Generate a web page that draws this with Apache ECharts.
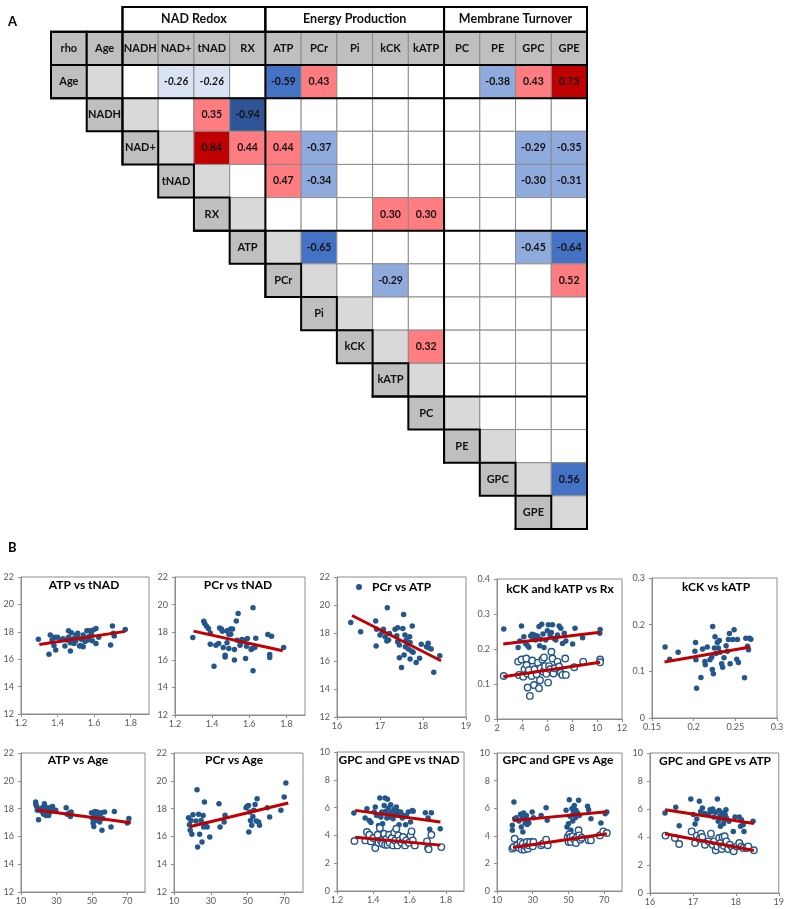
<!DOCTYPE html>
<html><head><meta charset="utf-8">
<script src="https://cdn.jsdelivr.net/npm/echarts@6/dist/echarts.min.js"></script>
<style>html,body{margin:0;padding:0;background:#fff}#c{width:787px;height:909px}</style>
</head><body><div id="c"></div>
<script>
// ---------- Panel A data ----------
const cornerLabel = 'rho';
const groupNames = ['NAD Redox', 'Energy Production', 'Membrane Turnover'];
const groupVars = [['NADH','NAD+','tNAD','RX'], ['ATP','PCr','Pi','kCK','kATP'], ['PC','PE','GPC','GPE']];
const rhoAge  = [['NAD+',-0.26],['tNAD',-0.26],['ATP',-0.59],['PCr',0.43],['PE',-0.38],['GPC',0.43],['GPE',0.73]];
const rhoNADH = [['tNAD',0.35],['RX',-0.94]];
const rhoNADp = [['tNAD',0.84],['RX',0.44],['ATP',0.44],['PCr',-0.37],['GPC',-0.29],['GPE',-0.35]];
const rhoTNAD = [['ATP',0.47],['PCr',-0.34],['GPC',-0.30],['GPE',-0.31]];
const rhoRX   = [['kCK',0.30],['kATP',0.30]];
const rhoATP  = [['PCr',-0.65],['GPC',-0.45],['GPE',-0.64]];
const rhoPCr  = [['kCK',-0.29],['GPE',0.52]];
const rhoKCK  = [['kATP',0.32]];
const rhoGPC  = [['GPE',0.56]];
const blueShadedPositive = [['GPC','GPE']];

// ---------- Panel B data ----------
const atpVsTnad = [[1.295,17.45],[1.353,16.36],[1.36,17.76],[1.37,17.4],[1.385,17.6],[1.38,17.0],[1.39,16.67],[1.40,17.6],[1.42,17.4],[1.43,17.5],[1.44,16.96],[1.45,17.4],[1.46,17.6],[1.46,18.08],[1.47,17.2],[1.47,16.6],[1.475,17.93],[1.485,17.5],[1.49,17.15],[1.50,17.76],[1.50,17.35],[1.51,17.6],[1.52,16.96],[1.51,17.9],[1.525,17.0],[1.53,17.45],[1.54,16.9],[1.54,17.76],[1.55,17.3],[1.56,18.08],[1.57,17.64],[1.575,18.08],[1.565,17.4],[1.585,17.83],[1.59,17.35],[1.595,18.13],[1.61,17.15],[1.61,18.25],[1.625,17.6],[1.69,17.04],[1.70,18.42],[1.705,17.9],[1.71,17.7],[1.77,18.17]];
const atpVsTnadFit = [[1.30,17.08],[1.77,18.03]];
const pcrVsTnad = [[1.296,17.61],[1.355,18.8],[1.36,18.63],[1.37,18.43],[1.38,18.27],[1.39,17.95],[1.39,17.13],[1.41,15.54],[1.42,17.06],[1.435,17.18],[1.44,18.31],[1.45,18.24],[1.455,18.07],[1.46,16.89],[1.47,16.33],[1.47,16.2],[1.48,18.1],[1.48,17.23],[1.49,16.82],[1.49,17.86],[1.50,18.24],[1.50,17.86],[1.51,18.24],[1.52,15.98],[1.52,16.75],[1.53,18.82],[1.535,17.42],[1.54,19.35],[1.55,17.06],[1.555,17.23],[1.56,17.47],[1.575,17.42],[1.58,16.1],[1.585,16.99],[1.59,17.54],[1.61,16.75],[1.615,16.82],[1.62,19.78],[1.62,15.2],[1.63,16.89],[1.635,17.57],[1.70,17.83],[1.71,16.38],[1.71,16.17],[1.72,17.71],[1.785,16.89]];
const pcrVsTnadFit = [[1.30,18.08],[1.78,16.65]];
const pcrVsAtp = [[16.32,18.75],[16.55,18.09],[16.9,18.85],[16.91,17.07],[16.92,18.26],[17.0,17.85],[17.05,18.09],[17.08,18.26],[17.12,17.73],[17.16,17.42],[17.17,19.8],[17.2,17.5],[17.22,17.97],[17.35,18.26],[17.39,17.8],[17.41,18.37],[17.41,17.38],[17.45,17.14],[17.45,16.24],[17.5,15.53],[17.53,18.33],[17.55,19.32],[17.56,16.43],[17.58,17.85],[17.59,17.02],[17.61,17.5],[17.64,17.24],[17.66,16.86],[17.69,17.73],[17.7,17.33],[17.7,16.15],[17.73,16.71],[17.75,18.5],[17.77,16.62],[17.84,15.9],[17.92,16.19],[17.96,17.19],[18.08,17.02],[18.12,17.26],[18.13,16.95],[18.19,16.86],[18.25,15.2],[18.39,16.38]];
const pcrVsAtpFit = [[16.35,19.25],[18.42,16.02]];
const katpVsRx = [[2.54,0.257],[3.96,0.266],[3.69,0.204],[3.83,0.223],[4.15,0.235],[4.28,0.216],[4.42,0.211],[4.55,0.205],[4.69,0.237],[4.82,0.242],[4.9,0.228],[5.0,0.240],[5.09,0.226],[5.23,0.237],[5.36,0.264],[5.41,0.209],[5.49,0.228],[5.58,0.271],[5.68,0.243],[5.76,0.204],[5.9,0.226],[6.03,0.252],[6.11,0.269],[6.25,0.240],[6.35,0.247],[6.44,0.269],[6.57,0.230],[6.7,0.226],[6.84,0.240],[6.97,0.266],[7.1,0.259],[7.24,0.216],[7.38,0.245],[7.51,0.223],[8.05,0.214],[8.24,0.259],[8.85,0.232],[10.25,0.256],[10.22,0.245]];
const katpVsRxFit = [[2.5,0.214],[10.25,0.248]];
const kckVsRx = [[2.54,0.123],[3.69,0.164],[3.75,0.126],[3.96,0.170],[4.1,0.121],[4.2,0.142],[4.34,0.173],[4.37,0.154],[4.42,0.130],[4.45,0.090],[4.55,0.140],[4.63,0.066],[4.77,0.123],[4.82,0.167],[4.96,0.097],[5.0,0.142],[5.17,0.128],[5.28,0.161],[5.36,0.088],[5.44,0.111],[5.49,0.145],[5.63,0.170],[5.71,0.135],[5.76,0.176],[5.84,0.151],[5.95,0.129],[6.09,0.104],[6.17,0.151],[6.25,0.142],[6.35,0.192],[6.44,0.173],[6.52,0.130],[6.62,0.145],[6.84,0.164],[6.97,0.150],[7.1,0.132],[7.24,0.126],[7.46,0.173],[7.51,0.126],[8.18,0.148],[8.9,0.164],[10.25,0.170],[10.25,0.162]];
const kckVsRxFit = [[2.5,0.121],[10.25,0.162]];
const kckVsKatp = [[0.1657,0.152],[0.1713,0.126],[0.1814,0.141],[0.2015,0.143],[0.2023,0.162],[0.2035,0.064],[0.2027,0.125],[0.2087,0.087],[0.2107,0.148],[0.2135,0.121],[0.2139,0.114],[0.2163,0.152],[0.2196,0.125],[0.2216,0.130],[0.2224,0.104],[0.2228,0.196],[0.2236,0.095],[0.2248,0.150],[0.2256,0.174],[0.2268,0.138],[0.2284,0.162],[0.2296,0.150],[0.2308,0.166],[0.2316,0.141],[0.2336,0.116],[0.2348,0.109],[0.2364,0.129],[0.2389,0.155],[0.2405,0.143],[0.2417,0.168],[0.2429,0.181],[0.2437,0.116],[0.2469,0.168],[0.2485,0.189],[0.2517,0.126],[0.2537,0.119],[0.2525,0.168],[0.2610,0.086],[0.2626,0.171],[0.2646,0.154],[0.2658,0.146],[0.2670,0.171],[0.2686,0.169]];
const kckVsKatpFit = [[0.165,0.120],[0.268,0.152]];
const atpVsAge = [[18.3,18.47],[18.4,18.3],[18.8,18.16],[19.2,17.88],[19.9,17.2],[21.0,18.0],[21.7,17.8],[22.5,18.1],[22.8,17.6],[23.2,18.35],[23.6,17.88],[24.1,17.5],[24.7,18.07],[25.0,17.75],[25.6,17.5],[26.0,18.0],[26.5,17.75],[26.9,18.1],[27.2,17.88],[27.8,18.16],[29.6,17.88],[35.5,18.07],[36.1,17.6],[37.5,17.7],[37.9,17.44],[38.3,17.75],[49.8,17.7],[50.4,17.28],[50.7,16.96],[51.1,16.72],[51.3,17.52],[51.7,17.8],[52.2,17.15],[52.6,17.44],[53.0,17.75],[53.5,17.28],[53.9,17.6],[54.4,17.04],[54.8,17.4],[55.3,17.7],[55.7,16.44],[56.2,17.28],[57.2,17.75],[60.8,16.68],[62.7,17.8],[70.0,16.96],[70.9,17.28]];
const atpVsAgeFit = [[19,17.9],[72,16.98]];
const pcrVsAge = [[17.9,17.35],[18.4,16.84],[18.8,16.44],[19.2,17.15],[19.7,16.15],[20.3,17.56],[21.9,17.1],[22.5,19.36],[22.8,15.24],[23.4,17.6],[23.9,16.15],[24.7,17.15],[25.2,15.6],[25.8,17.5],[26.1,16.68],[26.5,18.47],[27.1,16.87],[28.0,16.68],[29.4,15.95],[34.4,18.35],[35.0,16.68],[37.2,17.04],[37.7,17.52],[49.1,18.07],[49.6,18.16],[50.4,18.23],[50.6,16.32],[51.0,17.75],[51.5,17.15],[52.2,16.8],[52.8,17.44],[53.3,17.88],[54.0,18.3],[54.6,17.1],[55.1,18.7],[55.9,17.04],[56.4,16.8],[60.6,18.07],[61.9,17.4],[68.0,17.88],[69.8,18.83],[70.7,19.84]];
const pcrVsAgeFit = [[18.5,16.7],[72,18.4]];
const gpcVsTnad = [[1.293,5.61],[1.355,5.25],[1.365,5.92],[1.378,5.08],[1.387,4.92],[1.405,5.68],[1.411,6.04],[1.418,5.44],[1.429,4.72],[1.436,6.69],[1.442,5.32],[1.447,5.68],[1.451,4.84],[1.46,6.16],[1.465,6.69],[1.469,5.73],[1.475,5.25],[1.478,6.6],[1.484,5.97],[1.487,5.56],[1.49,5.32],[1.496,6.21],[1.502,5.68],[1.509,5.2],[1.515,5.88],[1.52,5.49],[1.527,6.04],[1.533,5.73],[1.538,5.44],[1.542,4.77],[1.551,5.68],[1.56,5.25],[1.569,5.44],[1.578,4.77],[1.582,5.4],[1.593,5.68],[1.605,4.96],[1.615,5.8],[1.62,5.73],[1.687,5.63],[1.702,5.25],[1.711,4.44],[1.72,5.63],[1.769,4.48]];
const gpcVsTnadFit = [[1.30,5.8],[1.77,4.97]];
const gpeVsTnad = [[1.296,3.6],[1.356,3.64],[1.365,4.24],[1.378,4.05],[1.387,3.57],[1.4,3.81],[1.411,3.09],[1.424,4.05],[1.429,3.48],[1.436,4.53],[1.442,3.64],[1.451,3.4],[1.46,4.12],[1.465,3.33],[1.473,3.76],[1.478,3.33],[1.487,4.05],[1.49,3.48],[1.502,3.81],[1.509,3.28],[1.515,4.2],[1.52,3.64],[1.527,4.48],[1.533,3.28],[1.538,4.0],[1.545,3.64],[1.556,3.48],[1.564,3.88],[1.575,3.28],[1.582,3.64],[1.596,3.48],[1.605,4.0],[1.611,4.29],[1.618,3.64],[1.629,3.28],[1.696,3.57],[1.702,3.09],[1.705,3.0],[1.72,4.05],[1.775,3.16]];
const gpeVsTnadFit = [[1.30,3.87],[1.77,3.3]];
const gpcVsAge = [[18.6,4.4],[18.6,4.76],[19.5,6.45],[19.9,5.24],[20.8,5.31],[22.3,5.07],[23.2,5.56],[23.6,4.64],[24.1,5.31],[24.5,4.28],[24.9,5.65],[25.4,5.24],[25.8,4.93],[26.4,5.48],[26.9,4.81],[27.3,5.17],[27.8,4.93],[29.7,5.72],[30.4,5.31],[34.7,5.48],[37.5,6.04],[38.1,5.12],[48.7,5.85],[49.2,4.64],[50.0,4.88],[50.5,6.62],[50.9,5.41],[51.4,4.4],[52.0,5.97],[52.4,5.07],[52.8,5.72],[53.3,6.2],[53.9,5.31],[54.2,5.85],[55.2,5.65],[55.7,6.57],[56.1,5.48],[60.7,6.14],[61.3,5.89],[62.6,5.24],[68.2,4.93],[70.6,5.6],[71.5,5.72]];
const gpcVsAgeFit = [[19,5.1],[71.5,5.75]];
const gpeVsAge = [[18.6,3.07],[19.3,3.19],[19.9,3.79],[21.3,3.31],[22.3,3.14],[23.2,3.55],[23.9,3.0],[24.5,3.43],[25.4,3.0],[26.0,3.24],[26.7,3.55],[27.3,3.07],[27.8,3.31],[28.6,3.55],[30.1,3.24],[30.4,3.55],[34.7,3.31],[35.7,3.43],[37.5,3.72],[38.4,3.31],[49.6,3.91],[50.1,3.55],[50.5,4.11],[51.1,3.91],[51.4,3.55],[52.4,3.96],[53.3,3.72],[54.2,3.48],[54.8,3.91],[55.7,4.4],[56.1,4.03],[56.7,3.72],[57.4,3.86],[61.3,3.67],[62.6,3.67],[67.6,4.03],[69.5,4.32],[71.5,4.2]];
const gpeVsAgeFit = [[19,3.15],[71.5,4.15]];
const gpcVsAtp = [[16.35,5.71],[16.6,6.12],[16.68,4.81],[16.95,6.71],[17.01,5.6],[17.05,4.93],[17.09,5.29],[17.15,6.55],[17.18,5.83],[17.22,6.07],[17.28,5.67],[17.36,5.6],[17.4,5.95],[17.43,5.83],[17.46,6.0],[17.49,5.43],[17.53,5.76],[17.57,6.71],[17.59,5.12],[17.61,5.9],[17.63,5.52],[17.64,4.76],[17.67,5.36],[17.69,5.71],[17.71,4.95],[17.73,5.24],[17.75,5.6],[17.77,5.95],[17.78,5.36],[17.84,5.12],[17.94,4.4],[17.98,5.43],[18.08,5.43],[18.11,4.76],[18.13,5.24],[18.17,4.88],[18.19,4.4],[18.4,5.12]];
const gpcVsAtpFit = [[16.35,5.95],[18.42,4.97]];
const gpeVsAtp = [[16.36,4.1],[16.58,3.93],[16.68,3.5],[16.97,4.4],[17.05,3.57],[17.09,4.1],[17.15,3.86],[17.19,4.24],[17.22,4.0],[17.28,3.45],[17.36,3.69],[17.42,4.24],[17.46,3.45],[17.49,3.69],[17.53,3.05],[17.57,3.33],[17.61,3.93],[17.64,3.57],[17.67,3.14],[17.69,4.0],[17.72,3.38],[17.74,4.05],[17.78,3.69],[17.82,3.14],[17.86,3.45],[17.92,3.21],[17.95,2.98],[18.02,3.33],[18.08,3.57],[18.13,3.33],[18.17,3.21],[18.25,3.21],[18.29,3.33],[18.42,3.05]];
const gpeVsAtpFit = [[16.35,4.23],[18.42,3.03]];

// ---------- build ----------
const FF = 'Lato, "Open Sans", sans-serif';
const DOT = '#23578c';
const RED = '#c00000';

const vars = ['Age'].concat(...groupVars);
const cols = [cornerLabel].concat(vars);
const rhoByRow = {Age:rhoAge, NADH:rhoNADH, 'NAD+':rhoNADp, tNAD:rhoTNAD, RX:rhoRX, ATP:rhoATP, PCr:rhoPCr, kCK:rhoKCK, GPC:rhoGPC};

function shade(v, a, b) {
  const blue = v < 0 || blueShadedPositive.some(p => p[0] === a && p[1] === b);
  const m = Math.abs(v);
  if (blue) return m < 0.28 ? '#dae3f3' : m < 0.5 ? '#8faadc' : m < 0.9 ? '#4472c4' : '#2f5597';
  return m < 0.7 ? '#ff7c80' : '#c00000';
}

const thinCells = [], thickCells = [];
cols.forEach((name, c) => {
  const cell = {x0:c, x1:c+1, y0:0, y1:1, fill:'#bfbfbf', text:name, font:'bold 11px ' + FF};
  (c < 2 ? thickCells : thinCells).push(cell);
});
let gStart = 2;
groupNames.forEach((g, i) => {
  const n = groupVars[i].length;
  thickCells.push({x0:gStart, x1:gStart+n, y0:-0.75, y1:0, fill:'#fff', text:g, font:'bold 12.5px ' + FF});
  gStart += n;
});
vars.forEach((v, i) => {
  const r = i + 1;
  thickCells.push({x0:i, x1:i+1, y0:r, y1:r+1, fill:'#bfbfbf', text:v, font:'bold 11px ' + FF});
  thinCells.push({x0:i+1, x1:i+2, y0:r, y1:r+1, fill:'#d9d9d9', text:''});
  for (let c = i + 2; c < cols.length; c++) {
    const hit = (rhoByRow[v] || []).find(p => p[0] === cols[c]);
    const cell = {x0:c, x1:c+1, y0:r, y1:r+1, fill:'#fff', text:''};
    if (hit) {
      cell.fill = shade(hit[1], v, cols[c]);
      cell.text = hit[1].toFixed(2);
      cell.font = (Math.abs(hit[1]) < 0.28 ? 'italic ' : '') + 'bold 10.5px ' + FF;
    }
    thinCells.push(cell);
  }
});
thinCells.forEach(c => c.thick = false);
thickCells.forEach(c => c.thick = true);
const allCells = thinCells.concat(thickCells);

// thick rules: group boundaries
const rules = [];
const nCols = cols.length;
[0, 1].forEach(y => rules.push([0, y, nCols, y]));
const groupEnds = ['Age'].concat(groupVars.map(g => g[g.length - 1]));
groupEnds.forEach(e => { const r = vars.indexOf(e) + 1; rules.push([r - 1, r + 1, nCols, r + 1]); });
groupVars.forEach(g => { const c = cols.indexOf(g[0]); rules.push([c, -0.75, c, c + 2]); });
rules.push([nCols, -0.75, nCols, vars.length + 1]);

function renderCell(params, api) {
  const info = allCells[api.value(2)];
  const p0 = api.coord([info.x0, info.y0]);
  const p1 = api.coord([info.x1, info.y1]);
  const children = [{
    type:'rect',
    shape:{x:p0[0], y:p0[1], width:p1[0]-p0[0], height:p1[1]-p0[1]},
    style:{fill:info.fill, stroke:info.thick ? '#000' : '#8c8c8c', lineWidth:info.thick ? 2 : 1}
  }];
  if (info.text) children.push({
    type:'text',
    style:{text:info.text, x:(p0[0]+p1[0])/2, y:(p0[1]+p1[1])/2, align:'center', verticalAlign:'middle', font:info.font, fill:'#111'}
  });
  return {type:'group', children};
}
function renderRule(params, api) {
  const a = api.coord([api.value(0), api.value(1)]);
  const b = api.coord([api.value(2), api.value(3)]);
  return {type:'line', shape:{x1:a[0], y1:a[1], x2:b[0], y2:b[1]}, style:{stroke:'#000', lineWidth:2, lineCap:'square'}};
}

const grids = [{left:51, top:7, width:536, height:522}];
const xAxes = [{gridIndex:0, type:'value', min:0, max:15, show:false}];
const yAxes = [{gridIndex:0, type:'value', min:-0.75, max:15, inverse:true, show:false}];
const series = [
  {type:'custom', name:'cells', xAxisIndex:0, yAxisIndex:0, silent:true, clip:false,
   data: allCells.map((c, i) => [c.x0, c.y0, i]), encode:{x:0, y:1}, renderItem:renderCell, z:2},
  {type:'custom', name:'rules', xAxisIndex:0, yAxisIndex:0, silent:true, clip:false,
   data: rules, encode:{x:[0,2], y:[1,3]}, renderItem:renderRule, z:3}
];
const titles = [
  {text:'A', left:8, top:15, padding:0, textStyle:{fontFamily:FF, fontSize:13, fontWeight:'bold', color:'#000'}},
  {text:'B', left:8, top:541, padding:0, textStyle:{fontFamily:FF, fontSize:13, fontWeight:'bold', color:'#000'}}
];
const legends = [];

const plots = [
  {title:'ATP vs tNAD', tx:84, ty:587, box:[21,577,149,714], x:[1.2,1.9,0.2], y:[12,22,2], filled:atpVsTnad, fits:[atpVsTnadFit]},
  {title:'PCr vs tNAD', tx:238, ty:587, box:[175,577,305,715], x:[1.2,1.9,0.2], y:[12,22,2], filled:pcrVsTnad, fits:[pcrVsTnadFit]},
  {legend:'PCr vs ATP', tx:356, ty:581, box:[337,577,466,717], x:[16,19,1], y:[12,22,2], filled:pcrVsAtp, fits:[pcrVsAtpFit]},
  {title:'kCK and kATP vs Rx', tx:560, ty:591, box:[497,579,622,719], x:[2,12,2], y:[0,0.4,0.1], filled:katpVsRx, open:kckVsRx, fits:[katpVsRxFit, kckVsRxFit]},
  {title:'kCK vs kATP', tx:716, ty:589, box:[652,578,777,718], x:[0.15,0.3,0.05], y:[0,0.3,0.1], filled:kckVsKatp, fits:[kckVsKatpFit]},
  {title:'ATP vs Age', tx:78, ty:762, box:[21,753,145,892], x:[10,80,20], y:[12,22,2], filled:atpVsAge, fits:[atpVsAgeFit]},
  {title:'PCr vs Age', tx:234, ty:762, box:[174,753,303,892], x:[10,80,20], y:[12,22,2], filled:pcrVsAge, fits:[pcrVsAgeFit]},
  {title:'GPC and GPE vs tNAD', tx:399, ty:762, box:[337,752,464,891], x:[1.2,1.9,0.2], y:[0,10,2], filled:gpcVsTnad, open:gpeVsTnad, fits:[gpcVsTnadFit, gpeVsTnadFit]},
  {title:'GPC and GPE vs Age', tx:558, ty:762, box:[497,753,622,891], x:[10,80,20], y:[0,10,2], filled:gpcVsAge, open:gpeVsAge, fits:[gpcVsAgeFit, gpeVsAgeFit]},
  {title:'GPC and GPE vs ATP', tx:715, ty:763, box:[650,753,779,893], x:[16,19,1], y:[0,10,2], filled:gpcVsAtp, open:gpeVsAtp, fits:[gpcVsAtpFit, gpeVsAtpFit]}
];

function isTick(a) { const q = (a[1] - a[0]) / a[2]; return Math.abs(q - Math.round(q)) < 1e-6; }
function axis(k, a, isX) {
  return {
    gridIndex:k, type:'value', min:a[0], max:a[1], interval:a[2],
    axisLine:{show:true, onZero:false, lineStyle:{color:'#8c8c8c', width:1}},
    axisTick:{show:true, length:3, lineStyle:{color:'#8c8c8c'}},
    axisLabel:{fontFamily:FF, fontSize:9, color:'#595959', margin:isX ? 5 : 7, showMaxLabel:isTick(a), showMinLabel:true},
    splitLine:{show:false}
  };
}

plots.forEach((p, i) => {
  const k = i + 1;
  grids.push({left:p.box[0], top:p.box[1], width:p.box[2]-p.box[0], height:p.box[3]-p.box[1], show:true, borderColor:'#8c8c8c', borderWidth:1, backgroundColor:'transparent'});
  xAxes.push(axis(k, p.x, true));
  yAxes.push(axis(k, p.y, false));
  const name = p.legend || p.title;
  series.push({type:'scatter', name:name, xAxisIndex:k, yAxisIndex:k, data:p.filled, symbol:'circle', symbolSize:5.5,
    itemStyle:{color:DOT, opacity:1}, silent:true, z:3});
  if (p.open) series.push({type:'scatter', name:name + ' (open)', xAxisIndex:k, yAxisIndex:k, data:p.open, symbol:'circle', symbolSize:6.5,
    itemStyle:{color:'#fff', borderColor:DOT, borderWidth:1.4, opacity:1}, silent:true, z:3});
  p.fits.forEach((f, j) => series.push({type:'line', name:name + ' fit ' + j, xAxisIndex:k, yAxisIndex:k, data:f, symbol:'none',
    lineStyle:{color:RED, width:3}, silent:true, z:4}));
  if (p.title) titles.push({text:p.title, left:p.tx, top:p.ty - 8, textAlign:'center', padding:0,
    textStyle:{fontFamily:FF, fontSize:12, fontWeight:'bold', color:'#000'}});
  if (p.legend) legends.push({data:[p.legend], left:p.tx, top:p.ty, padding:0, icon:'circle', itemWidth:16, itemHeight:6,
    textStyle:{fontFamily:FF, fontSize:12, fontWeight:'bold', color:'#000'}, selectedMode:false});
});

const chart = echarts.init(document.getElementById('c'), null, {renderer:'canvas'});
chart.setOption({
  animation:false,
  backgroundColor:'#fff',
  title:titles,
  legend:legends,
  grid:grids,
  xAxis:xAxes,
  yAxis:yAxes,
  series:series
});
</script></body></html>
